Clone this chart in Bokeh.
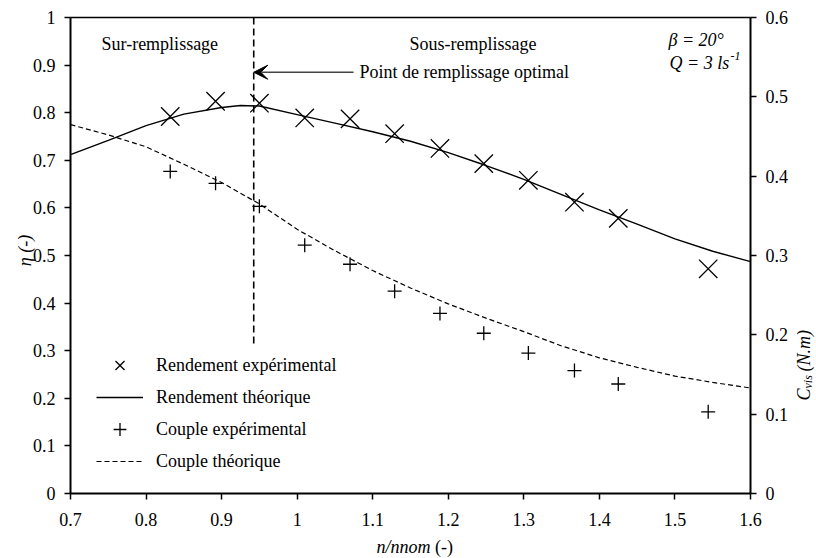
import math
from bokeh.plotting import figure
from bokeh.models import (Range1d, LinearAxis, FixedTicker, CustomJSTickFormatter,
                          Label, Arrow, VeeHead, Legend, LegendItem)
from bokeh.embed import file_html
from bokeh.resources import INLINE

# ---------------- data ----------------
n_exp = [0.832, 0.892, 0.950, 1.010, 1.070, 1.129, 1.189, 1.247, 1.306, 1.367, 1.425, 1.544]
eta_exp = [0.792, 0.824, 0.820, 0.789, 0.787, 0.756, 0.725, 0.693, 0.658, 0.612, 0.578, 0.472]
couple_exp = [0.406, 0.391, 0.362, 0.313, 0.289, 0.255, 0.227, 0.202, 0.177, 0.155, 0.138, 0.103]

n_eta_th = [0.70, 0.75, 0.80, 0.85, 0.90, 0.925, 0.95, 1.00, 1.05, 1.10, 1.15, 1.20,
            1.25, 1.30, 1.35, 1.40, 1.45, 1.50, 1.55, 1.60]
eta_th = [0.712, 0.742, 0.773, 0.797, 0.811, 0.815, 0.814, 0.796, 0.778, 0.760, 0.740, 0.716,
          0.689, 0.660, 0.628, 0.596, 0.566, 0.535, 0.509, 0.487]

n_couple_th = [0.70, 0.75, 0.80, 0.85, 0.90, 0.95, 1.00, 1.05, 1.10, 1.15, 1.20,
               1.25, 1.30, 1.35, 1.40, 1.45, 1.50, 1.55, 1.60]
couple_th = [0.465, 0.452, 0.437, 0.415, 0.392, 0.365, 0.333, 0.306, 0.281, 0.259, 0.239,
             0.221, 0.204, 0.186, 0.171, 0.159, 0.148, 0.140, 0.133]

x_ticks = [0.7, 0.8, 0.9, 1.0, 1.1, 1.2, 1.3, 1.4, 1.5, 1.6]
eta_ticks = [0, 0.1, 0.2, 0.3, 0.4, 0.5, 0.6, 0.7, 0.8, 0.9, 1.0]
couple_ticks = [0, 0.1, 0.2, 0.3, 0.4, 0.5, 0.6]

X_MIN, X_MAX = 0.7, 1.6
ETA_MAX = 1.0
COUPLE_MAX = 0.6

optimal_x = 0.9425
optimal_y = [0.315, 1.0]
arrow_y = 0.885
arrow_x_start = 1.0746

FONT = "Liberation Serif"
FS = "18px"

W, H = 816, 558
# frame of the axes box in canvas pixels
FL, FR, FT, FB = 70, 750, 17, 493
kx = (FR - FL) / (X_MAX - X_MIN)
ky = (FB - FT) / ETA_MAX


def X(px):
    return X_MIN + (px - FL) / kx


def Y(py):
    return (FB - py) / ky


x_range = Range1d(X(0), X(W))
y_range = Range1d(Y(H), Y(0))

p = figure(width=W, height=H, output_backend="svg", toolbar_location=None,
           x_range=x_range, y_range=y_range, x_axis_location=None, y_axis_location=None,
           min_border=0, min_border_left=0, min_border_right=0,
           min_border_top=0, min_border_bottom=0)
p.extra_y_ranges = {"couple": Range1d(Y(H) * COUPLE_MAX, Y(0) * COUPLE_MAX)}
p.xgrid.visible = False
p.ygrid.visible = False
p.outline_line_color = None
p.background_fill_color = "white"
p.border_fill_color = "white"

fmt = CustomJSTickFormatter(code="return Number(tick.toFixed(2)).toString();")


def style_axis(ax, ticks, standoff, lw=2):
    ax.ticker = FixedTicker(ticks=ticks)
    ax.formatter = fmt
    ax.axis_line_color = "black"
    ax.axis_line_width = lw
    ax.major_tick_line_color = "black"
    ax.major_tick_line_width = 1.5
    ax.major_tick_out = 6
    ax.major_tick_in = 0
    ax.minor_tick_line_color = None
    ax.major_label_text_font = FONT
    ax.major_label_text_font_size = FS
    ax.major_label_text_color = "black"
    ax.major_label_standoff = standoff


x_axis = LinearAxis(fixed_location=0, bounds=(X_MIN, X_MAX))
style_axis(x_axis, x_ticks, 13)
p.add_layout(x_axis, "below")

top_axis = LinearAxis(fixed_location=ETA_MAX, bounds=(X_MIN, X_MAX))
style_axis(top_axis, [], 0, lw=1.5)
p.add_layout(top_axis, "above")

y_axis = LinearAxis(fixed_location=X_MIN, bounds=(0, ETA_MAX))
style_axis(y_axis, eta_ticks, 9)
p.add_layout(y_axis, "left")

right_axis = LinearAxis(y_range_name="couple", fixed_location=X_MAX, bounds=(0, COUPLE_MAX))
style_axis(right_axis, couple_ticks, 9)
p.add_layout(right_axis, "right")

# ---------------- glyphs ----------------
r_eta_th = p.line(n_eta_th, eta_th, line_color="black", line_width=1.4)
r_c_th = p.line(n_couple_th, couple_th, y_range_name="couple", line_color="black",
                line_width=1.2, line_dash="5 3")
r_eta_exp = p.scatter(n_exp, eta_exp, marker="x", size=26, line_color="black", line_width=1.3)
r_c_exp = p.scatter(n_exp, couple_exp, y_range_name="couple", marker="cross", size=14,
                    line_color="black", line_width=1.3)

p.segment(x0=[optimal_x], y0=[optimal_y[0]], x1=[optimal_x], y1=[optimal_y[1]],
          line_color="black", line_width=1.6, line_dash="7 4")

p.add_layout(Arrow(end=VeeHead(size=14, fill_color="black", line_color="black", line_width=1),
                   x_start=arrow_x_start, y_start=arrow_y, x_end=optimal_x, y_end=arrow_y,
                   line_color="#444444", line_width=1.3))


def lab(x, y, text, align="left", style="normal", size=FS, angle=0.0, baseline="middle"):
    p.add_layout(Label(x=x, y=y, text=text, text_font=FONT, text_font_size=size,
                       text_font_style=style, text_align=align, text_baseline=baseline,
                       text_color="black", angle=angle))


lab(X(101), Y(43), "Sur-remplissage")
lab(X(409), Y(43), "Sous-remplissage")
lab(X(359), Y(71), "Point de remplissage optimal")
lab(X(668), Y(39), "β = 20°", style="italic")
lab(X(669), Y(62), "Q = 3 ls", style="italic")
lab(X(730), Y(55), "-1", style="italic", size="12px")

# axis titles
lab(X(24), Y(250), "η (-)", align="center", style="italic", angle=math.pi / 2)
lab(X(430), Y(546), "n/nnom", align="right", style="italic")
lab(X(434.5), Y(546), "(-)", align="left")
lab(X(803), Y(400), "C", style="italic", angle=math.pi / 2, baseline="alphabetic")
lab(X(807), Y(388), "vis", style="italic", size="12px", angle=math.pi / 2, baseline="alphabetic")
lab(X(803), Y(371), "(N.m)", style="italic", angle=math.pi / 2, baseline="alphabetic")

legend = Legend(items=[
    LegendItem(label="Rendement expérimental", renderers=[r_eta_exp]),
    LegendItem(label="Rendement théorique", renderers=[r_eta_th]),
    LegendItem(label="Couple expérimental", renderers=[r_c_exp]),
    LegendItem(label="Couple théorique", renderers=[r_c_th]),
], location=(96, H - 477), padding=0, spacing=0, margin=0, glyph_width=47, glyph_height=32,
    label_height=32, label_standoff=13, border_line_color=None, background_fill_alpha=0,
    label_text_font=FONT, label_text_font_size=FS, label_text_color="black")
p.add_layout(legend)

open("out.html", "w").write(file_html(p, INLINE))
